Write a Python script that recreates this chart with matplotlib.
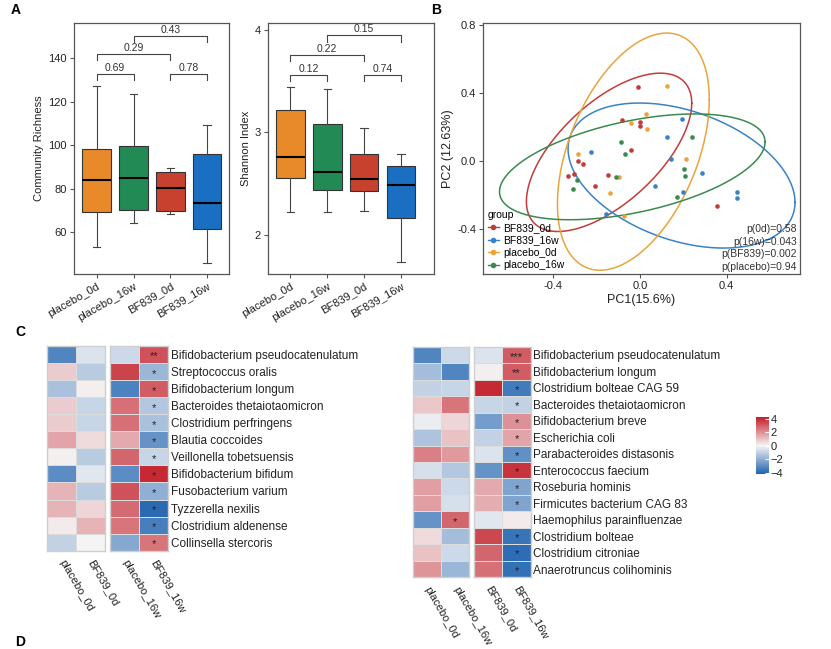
import numpy as np
import matplotlib
matplotlib.use('Agg')
import matplotlib.pyplot as plt
from matplotlib.colors import LinearSegmentedColormap, Normalize
from matplotlib.cm import ScalarMappable
from matplotlib.lines import Line2D

plt.rcParams['font.family'] = ['Liberation Sans', 'DejaVu Sans']
plt.rcParams['axes.unicode_minus'] = False

# ---------------- data ----------------
groups = ['placebo_0d', 'placebo_16w', 'BF839_0d', 'BF839_16w']
box_colors = ['#E8892A', '#228B55', '#C8412F', '#1A6FC2']

rich_whislo = [53.1, 64.4, 68.3, 46.0]
rich_q1 = [69.3, 70.3, 69.7, 61.7]
rich_med = [84.2, 84.8, 80.2, 73.5]
rich_q3 = [98.2, 99.7, 87.7, 96.1]
rich_whishi = [127.4, 123.4, 89.4, 109.3]

shan_whislo = [2.22, 2.22, 2.236, 1.734]
shan_q1 = [2.557, 2.44, 2.425, 2.162]
shan_med = [2.759, 2.616, 2.55, 2.486]
shan_q3 = [3.219, 3.077, 2.785, 2.668]
shan_whishi = [3.443, 3.42, 3.045, 2.785]

comp_pairs = [(1, 2), (1, 3), (2, 4), (3, 4)]
rich_p = ['0.69', '0.29', '0.43', '0.78']
rich_bracket_y = [132.8, 142.0, 150.4, 132.8]
shan_p = ['0.12', '0.22', '0.15', '0.74']
shan_bracket_y = [3.562, 3.757, 3.945, 3.562]

pca_groups = ['BF839_0d', 'BF839_16w', 'placebo_0d', 'placebo_16w']
pca_colors = ['#C23B3B', '#3A82C6', '#E9A43C', '#3A8A4F']

bf0_pc1 = [-0.010, -0.082, 0.000, 0.000, -0.043, -0.285, -0.262, -0.330, -0.305, -0.146, -0.208, 0.354]
bf0_pc2 = [0.432, 0.238, 0.230, 0.207, 0.067, -0.002, -0.016, -0.090, -0.076, -0.084, -0.146, -0.262]
bf16_pc1 = [0.195, 0.124, -0.223, 0.143, 0.285, 0.069, 0.197, 0.446, 0.446, -0.157]
bf16_pc2 = [0.248, 0.141, 0.052, 0.010, -0.071, -0.145, -0.184, -0.181, -0.218, -0.310]
pl0_pc1 = [0.127, 0.028, -0.043, 0.031, -0.285, 0.212, -0.097, -0.138, -0.071]
pl0_pc2 = [0.437, 0.277, 0.222, 0.190, 0.041, 0.010, -0.096, -0.186, -0.321]
pl16_pc1 = [-0.086, -0.069, 0.239, 0.204, 0.209, -0.289, -0.307, -0.109, 0.172]
pl16_pc2 = [0.112, 0.044, 0.138, -0.046, -0.090, -0.110, -0.166, -0.094, -0.208]

# ellipse: centre, half x-range, half y-range, y-coupling at x-extreme
ell_cx = [-0.142, 0.192, -0.030, -0.035]
ell_cy = [0.051, -0.085, 0.055, -0.034]
ell_hx = [0.381, 0.523, 0.350, 0.612]
ell_hy = [0.464, 0.425, 0.695, 0.310]
ell_cos = [0.62, -0.37, 0.44, 0.47]

pca_ptext = ['p(0d)=0.58', 'p(16w)=0.043', 'p(BF839)=0.002', 'p(placebo)=0.94']

left_species = ['Bifidobacterium pseudocatenulatum', 'Streptococcus oralis', 'Bifidobacterium longum',
                'Bacteroides thetaiotaomicron', 'Clostridium perfringens', 'Blautia coccoides',
                'Veillonella tobetsuensis', 'Bifidobacterium bifidum', 'Fusobacterium varium',
                'Tyzzerella nexilis', 'Clostridium aldenense', 'Collinsella stercoris']
left_cols = ['placebo_0d', 'BF839_0d', 'placebo_16w', 'BF839_16w']
left_values = [
    [-3.2, -0.5, -0.8, 3.2],
    [0.8, -1.2, 3.5, -1.8],
    [-1.5, 0.1, -3.3, 3.0],
    [0.8, -0.9, 2.6, -1.3],
    [0.8, -0.9, 2.6, -1.5],
    [1.6, 0.5, 1.5, -2.8],
    [0.1, -1.2, 2.8, -0.9],
    [-3.0, -0.4, -3.0, 4.0],
    [1.3, -1.2, 3.2, -2.0],
    [1.3, 0.6, 2.7, -4.0],
    [0.2, 1.3, 2.5, -3.4],
    [-1.0, 0.0, -2.2, 2.5],
]
left_stars = [
    ['', '', '', '**'], ['', '', '', '*'], ['', '', '', '*'], ['', '', '', '*'],
    ['', '', '', '*'], ['', '', '', '*'], ['', '', '', '*'], ['', '', '', '*'],
    ['', '', '', '*'], ['', '', '', '*'], ['', '', '', '*'], ['', '', '', '*'],
]

right_species = ['Bifidobacterium pseudocatenulatum', 'Bifidobacterium longum', 'Clostridium bolteae CAG 59',
                 'Bacteroides thetaiotaomicron', 'Bifidobacterium breve', 'Escherichia coli',
                 'Parabacteroides distasonis', 'Enterococcus faecium', 'Roseburia hominis',
                 'Firmicutes bacterium CAG 83', 'Haemophilus parainfluenzae', 'Clostridium bolteae',
                 'Clostridium citroniae', 'Anaerotruncus colihominis']
right_cols = ['placebo_0d', 'placebo_16w', 'BF839_0d', 'BF839_16w']
right_values = [
    [-3.2, -0.8, -0.5, 3.0],
    [-1.6, -3.2, 0.1, 3.0],
    [-1.0, -0.9, 4.0, -3.5],
    [0.9, 2.5, -0.9, -1.0],
    [-0.2, 0.6, -2.5, 2.0],
    [-1.4, 1.0, -1.0, 1.6],
    [2.3, 1.8, -0.5, -2.9],
    [-0.6, -1.3, -2.8, 3.8],
    [1.7, -0.8, 1.5, -2.3],
    [1.7, -0.6, 1.4, -2.3],
    [-2.8, 2.8, -0.4, 0.2],
    [0.5, -1.6, 3.4, -3.7],
    [1.0, -0.8, 2.8, -3.9],
    [1.9, -1.8, 2.6, -3.8],
]
right_stars = [
    ['', '', '', '***'], ['', '', '', '**'], ['', '', '', '*'], ['', '', '', '*'],
    ['', '', '', '*'], ['', '', '', '*'], ['', '', '', '*'], ['', '', '', '*'],
    ['', '', '', '*'], ['', '', '', '*'], ['', '*', '', ''], ['', '', '', '*'],
    ['', '', '', '*'], ['', '', '', '*'],
]
cbar_ticks = [-4, -2, 0, 2, 4]

# ---------------- figure ----------------
W, H = 831, 649
fig = plt.figure(figsize=(W / 100, H / 100), dpi=100)
TXT = '#222222'
SP = '#555555'


def ax_px(x0, y0, x1, y1):
    return fig.add_axes([x0 / W, 1 - y1 / H, (x1 - x0) / W, (y1 - y0) / H])


def style_frame(ax):
    for s in ax.spines.values():
        s.set_color(SP)
        s.set_linewidth(0.9)
    ax.tick_params(direction='out', length=3, width=0.8, color=SP, labelsize=8, labelcolor=TXT, pad=2)


def box_panel(ax, lo, q1, med, q3, hi, ylim, yticks, ylabel, by, pl, th):
    stats = [dict(whislo=a, q1=b, med=c, q3=d, whishi=e, label=g)
             for a, b, c, d, e, g in zip(lo, q1, med, q3, hi, groups)]
    bp = ax.bxp(stats, positions=[1, 2, 3, 4], widths=0.78, patch_artist=True, showfliers=False,
                capwidths=0.2,
                boxprops=dict(linewidth=0.8, edgecolor='#333333'),
                medianprops=dict(color='black', linewidth=1.5),
                whiskerprops=dict(color='#444444', linewidth=0.8),
                capprops=dict(color='#444444', linewidth=0.8))
    for patch, c in zip(bp['boxes'], box_colors):
        patch.set_facecolor(c)
    for (i, j), y, t in zip(comp_pairs, by, pl):
        ax.plot([i, i, j, j], [y - th, y, y, y - th], color='#444444', lw=0.8)
        ax.text((i + j) / 2, y + th * 0.15, t, ha='center', va='bottom', fontsize=7.5, color='#333333')
    ax.set_xlim(0.38, 4.6)
    ax.set_ylim(*ylim)
    ax.set_yticks(yticks)
    ax.set_ylabel(ylabel, fontsize=8, color=TXT, labelpad=3)
    style_frame(ax)
    ax.set_xticks([1, 2, 3, 4])
    ax.set_xticklabels(groups, rotation=30, ha='right', rotation_mode='anchor')


# Panel A
axA1 = ax_px(74, 23, 229, 274)
box_panel(axA1, rich_whislo, rich_q1, rich_med, rich_q3, rich_whishi, (40.8, 156.2),
          [60, 80, 100, 120, 140], 'Community Richness', rich_bracket_y, rich_p, 3.0)
axA2 = ax_px(268, 23, 434, 274)
box_panel(axA2, shan_whislo, shan_q1, shan_med, shan_q3, shan_whishi, (1.62, 4.065),
          [2, 3, 4], 'Shannon Index', shan_bracket_y, shan_p, 0.066)
axA2.set_xlim(0.39, 4.9)

# Panel B
axB = ax_px(483, 23, 800, 274)
pcs = [(bf0_pc1, bf0_pc2), (bf16_pc1, bf16_pc2), (pl0_pc1, pl0_pc2), (pl16_pc1, pl16_pc2)]
t = np.linspace(0, 2 * np.pi, 300)
for k, ((px, py), c) in enumerate(zip(pcs, pca_colors)):
    axB.scatter(px, py, s=11, color=c, zorder=3, linewidths=0)
    phi = np.arccos(ell_cos[k])
    axB.plot(ell_cx[k] + ell_hx[k] * np.cos(t), ell_cy[k] + ell_hy[k] * np.cos(t + phi),
             color=c, lw=1.1, zorder=2)
axB.set_xlim(-0.723, 0.738)
axB.set_ylim(-0.662, 0.809)
axB.set_xticks([-0.4, 0.0, 0.4])
axB.set_xticklabels(['-0.4', '0.0', '0.4'])
axB.set_yticks([-0.4, 0.0, 0.4, 0.8])
axB.set_yticklabels(['-0.4', '0.0', '0.4', '0.8'])
axB.set_xlabel('PC1(15.6%)', fontsize=9, color=TXT, labelpad=2)
axB.set_ylabel('PC2 (12.63%)', fontsize=9, color=TXT, labelpad=2)
style_frame(axB)
handles = [Line2D([0], [0], color=c, marker='o', markersize=3, lw=1) for c in pca_colors]
leg = axB.legend(handles, pca_groups, title='group', loc='lower left', bbox_to_anchor=(-0.005, -0.01),
                 frameon=False, fontsize=7.5, title_fontsize=7.5, handlelength=1.1, handletextpad=0.4,
                 labelspacing=0.24, borderaxespad=0.2, alignment='left')
for i, s in enumerate(pca_ptext):
    axB.text(0.99, 0.178 - i * 0.05, s, transform=axB.transAxes, ha='right', va='center',
             fontsize=7.5, color='#333333')

# Panel C heatmaps
cmap = LinearSegmentedColormap.from_list('hm', ['#1F63B0', '#F5F5F5', '#C3202A'])
norm = Normalize(-4.2, 4.2)


def heat_block(ax, vals, stars, colnames, rowlabels=None, pad=2):
    vals = np.array(vals)
    n, m = vals.shape
    ax.pcolormesh(np.arange(m + 1), np.arange(n + 1), vals, cmap=cmap, norm=norm,
                  edgecolors='#dcdcdc', linewidth=0.5)
    for i in range(n):
        for j in range(m):
            if stars[i][j]:
                ax.text(j + 0.5, i + 0.62, stars[i][j], ha='center', va='center', fontsize=8,
                        color='#2a2020')
    ax.set_xlim(0, m)
    ax.set_ylim(n, 0)
    for s in ax.spines.values():
        s.set_color('#cfcfcf')
        s.set_linewidth(1.0)
    ax.set_xticks(np.arange(m) + 0.5)
    ax.set_xticklabels(colnames, rotation=-60, ha='left', va='center', rotation_mode='anchor',
                       fontsize=8, color=TXT)
    ax.tick_params(axis='x', length=0, pad=7)
    if rowlabels is None:
        ax.set_yticks([])
    else:
        ax.yaxis.tick_right()
        ax.set_yticks(np.arange(n) + 0.5)
        ax.set_yticklabels(rowlabels, fontsize=8.5, color=TXT)
        ax.tick_params(axis='y', length=0, pad=pad)


lv = np.array(left_values)
ls = [r[:2] for r in left_stars]
ls2 = [r[2:] for r in left_stars]
axC1 = ax_px(46.7, 346, 105, 550.7)
heat_block(axC1, lv[:, :2], ls, left_cols[:2])
axC2 = ax_px(110, 346, 168.3, 550.7)
heat_block(axC2, lv[:, 2:], ls2, left_cols[2:], left_species, pad=2)

rv = np.array(right_values)
rs = [r[:2] for r in right_stars]
rs2 = [r[2:] for r in right_stars]
axD1 = ax_px(412.7, 346.7, 469.3, 577.3)
heat_block(axD1, rv[:, :2], rs, right_cols[:2])
axD2 = ax_px(474, 346.7, 530.7, 577.3)
heat_block(axD2, rv[:, 2:], rs2, right_cols[2:], right_species, pad=2)

cax = ax_px(756, 417.3, 769.3, 474)
cb = fig.colorbar(ScalarMappable(norm=norm, cmap=cmap), cax=cax)
cb.outline.set_visible(False)
cb.set_ticks(cbar_ticks)
cb.set_ticklabels(['\u22124', '\u22122', '0', '2', '4'])
cax.tick_params(direction='in', length=3, width=0.8, color='white', labelsize=8, labelcolor=TXT, pad=1)

# panel letters
for s, x, y in [('A', 16, 10), ('B', 436, 10), ('C', 20, 332), ('D', 20, 642)]:
    fig.text(x / W, 1 - y / H, s, fontsize=10, fontweight='bold', ha='center', va='center', color='black')

fig.savefig('out.png', dpi=100)
